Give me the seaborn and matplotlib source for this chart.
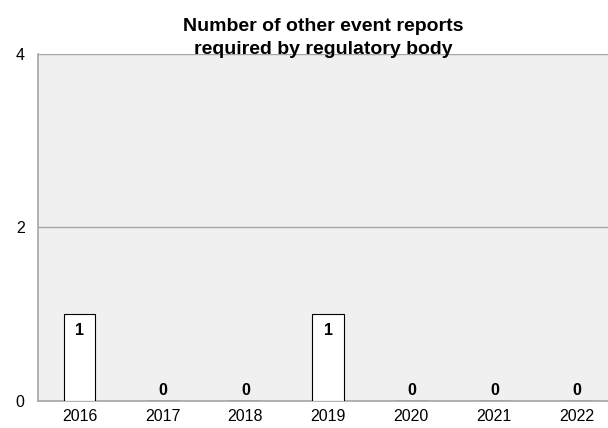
import matplotlib
matplotlib.use("Agg")
import matplotlib.pyplot as plt
import seaborn as sns
import pandas as pd

years = ["2016", "2017", "2018", "2019", "2020", "2021", "2022"]
reports = [1, 0, 0, 1, 0, 0, 0]
y_ticks = [0, 2, 4]

df = pd.DataFrame({"year": years, "reports": reports})

sns.set_style("white")
plt.rcParams["font.family"] = ["Liberation Sans", "DejaVu Sans"]
plt.rcParams["text.color"] = "black"
plt.rcParams["xtick.labelcolor"] = "black"
plt.rcParams["ytick.labelcolor"] = "black"

fig = plt.figure(figsize=(6.08, 4.28), dpi=100)
ax = fig.add_axes([0.0625, 0.063, 0.9375, 0.811])
ax.set_facecolor("#f0f0f0")

sns.barplot(data=df, x="year", y="reports", color="white", edgecolor="black",
            linewidth=0.8, width=0.385, saturation=1, ax=ax, zorder=3)

ax.set_ylim(0, 4)
ax.set_xlim(-0.5, 6.37)
ax.set_yticks(y_ticks)
ax.yaxis.grid(True, color="#a6a6a6", linewidth=1, zorder=0)
ax.set_axisbelow(True)
ax.tick_params(axis="y", length=3.6, color="#a6a6a6", labelsize=11.5, pad=6)
ax.tick_params(axis="x", length=0, labelsize=11.5, pad=6)
ax.set_xlabel("")
ax.set_ylabel("")

for s in ["top", "right"]:
    ax.spines[s].set_visible(False)
for s in ["left", "bottom"]:
    ax.spines[s].set_color("#a6a6a6")
    ax.spines[s].set_linewidth(1.2)

for i, v in enumerate(reports):
    if v > 0:
        ax.annotate(str(v), (i, v), xytext=(0, -6), textcoords="offset points",
                    ha="center", va="top", fontsize=11.5, fontweight="bold", zorder=5)
    else:
        ax.annotate(str(v), (i, v), xytext=(0, 2), textcoords="offset points",
                    ha="center", va="bottom", fontsize=11.5, fontweight="bold", zorder=5)

ax.set_title("Number of other event reports\nrequired by regulatory body",
             fontsize=14, fontweight="bold", pad=0, linespacing=1.45)

fig.savefig("out.png", dpi=100)
